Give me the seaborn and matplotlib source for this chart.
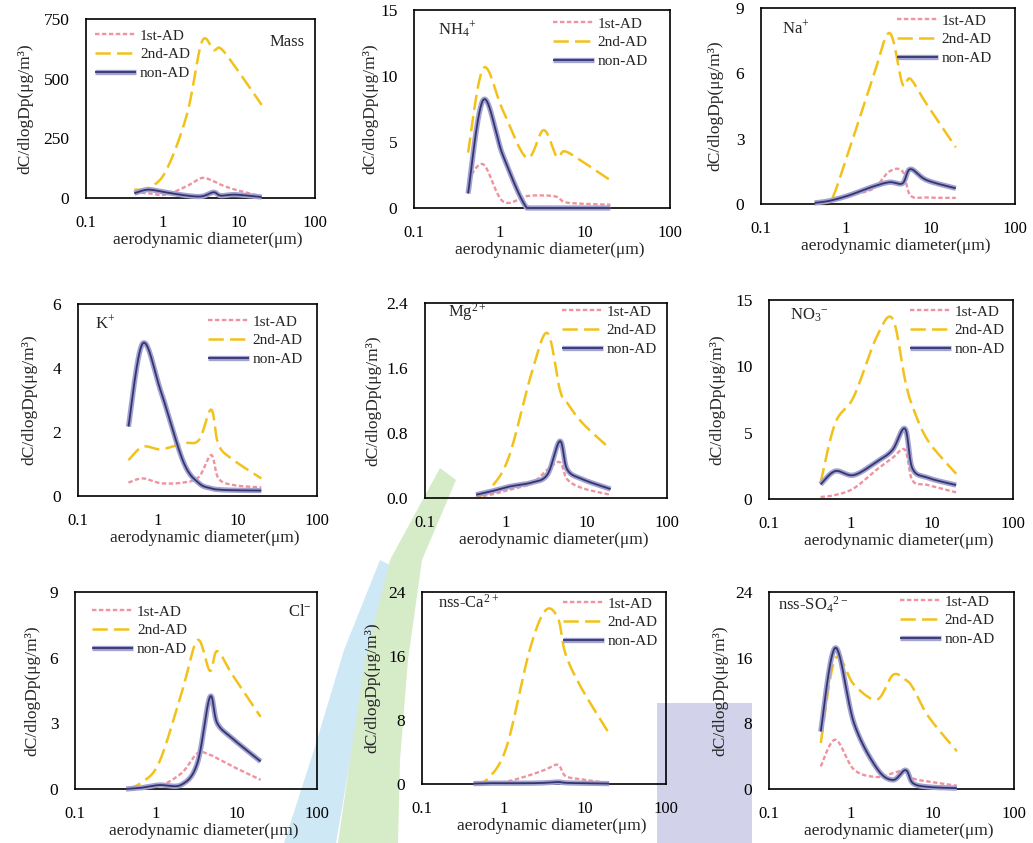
import numpy as np
import pandas as pd
import matplotlib
matplotlib.use("Agg")
import matplotlib.pyplot as plt
import seaborn as sns
from matplotlib import patheffects as pe
from matplotlib.patches import Polygon

# ---------------- data ----------------
dp = [0.43, 0.65, 1.1, 2.1, 3.3, 4.7, 5.8, 9.0, 20.0]
series_names = ["1st-AD", "2nd-AD", "non-AD"]
x_tick_vals = [0.1, 1, 10, 100]
x_tick_labels = ["0.1", "1", "10", "100"]

mass_1st = [24, 20, 14, 50, 84, 70, 56, 35, 7]
mass_2nd = [35, 42, 110, 350, 655, 620, 627, 550, 390]
mass_non = [20, 35, 24, 10, 7, 24, 10, 14, 4]

nh4_1st = [2.1, 3.3, 0.5, 0.9, 0.95, 0.85, 0.45, 0.33, 0.25]
nh4_2nd = [4.2, 10.6, 7.4, 3.8, 5.9, 3.9, 4.3, 3.6, 2.1]
nh4_non = [1.1, 8.2, 4.0, 0.0, 0.0, 0.0, 0.0, 0.0, 0.0]

na_1st = [0.05, 0.15, 0.4, 0.7, 1.5, 1.5, 0.4, 0.3, 0.28]
na_2nd = [0.0, 0.05, 2.5, 5.8, 7.85, 5.5, 5.75, 4.6, 2.6]
na_non = [0.05, 0.15, 0.4, 0.8, 1.0, 0.95, 1.6, 1.1, 0.72]

k_1st = [0.42, 0.55, 0.4, 0.42, 0.6, 1.28, 0.55, 0.34, 0.27]
k_2nd = [1.12, 1.54, 1.46, 1.65, 1.75, 2.7, 1.6, 1.12, 0.55]
k_non = [2.17, 4.77, 3.26, 1.07, 0.4, 0.24, 0.2, 0.18, 0.17]

mg_1st = [0.01, 0.04, 0.1, 0.18, 0.35, 0.44, 0.23, 0.12, 0.04]
mg_2nd = [0.0, 0.12, 0.51, 1.54, 2.03, 1.33, 1.17, 0.92, 0.6]
mg_non = [0.04, 0.08, 0.14, 0.19, 0.29, 0.70, 0.35, 0.23, 0.11]

no3_1st = [0.15, 0.3, 0.8, 2.2, 3.1, 3.7, 1.4, 1.05, 0.5]
no3_2nd = [1.2, 5.7, 7.7, 12.2, 13.6, 9.0, 7.0, 4.4, 1.9]
no3_non = [1.1, 2.1, 1.8, 2.8, 3.7, 5.3, 2.3, 1.6, 1.05]

cl_1st = [0.0, 0.05, 0.12, 0.73, 1.64, 1.56, 1.4, 1.03, 0.42]
cl_2nd = [0.0, 0.27, 1.2, 4.4, 6.8, 5.4, 6.3, 5.2, 3.3]
cl_non = [0.0, 0.05, 0.18, 0.2, 1.2, 4.2, 3.0, 2.3, 1.26]

ca_1st = [0.0, 0.1, 0.3, 1.1, 1.8, 2.4, 1.0, 0.6, 0.1]
ca_2nd = [0.0, 0.7, 4.7, 16.7, 21.7, 20.7, 16.3, 12.1, 6.3]
ca_non = [0.05, 0.1, 0.1, 0.1, 0.15, 0.25, 0.15, 0.1, 0.05]

so4_1st = [2.75, 6.0, 2.35, 1.46, 1.94, 2.27, 1.3, 0.9, 0.4]
so4_2nd = [5.6, 15.9, 12.7, 10.9, 13.9, 13.3, 12.3, 8.8, 4.6]
so4_non = [7.0, 17.2, 8.0, 2.5, 1.1, 2.3, 0.7, 0.25, 0.1]

panel_titles = ["Mass", r"NH$_4$$^{+}$", r"Na$^{+}$", r"K$^{+}$", r"Mg$^{2+}$",
                r"NO$_3$$^{-}$", r"Cl$^{-}$", r"nss-Ca$^{2+}$", r"nss-SO$_4$$^{2-}$"]
y_maxes = [750, 15, 9, 6, 2.4, 15, 9, 24, 24]
y_tick_labels = [["0", "250", "500", "750"], ["0", "5", "10", "15"], ["0", "3", "6", "9"],
                 ["0", "2", "4", "6"], ["0.0", "0.8", "1.6", "2.4"], ["0", "5", "10", "15"],
                 ["0", "3", "6", "9"], ["0", "8", "16", "24"], ["0", "8", "16", "24"]]

# ---------------- style ----------------
sns.set_theme(style="white")
plt.rcParams["font.family"] = ["Liberation Serif", "DejaVu Serif"]
plt.rcParams["mathtext.fontset"] = "custom"
plt.rcParams["mathtext.rm"] = "Liberation Serif"
plt.rcParams["mathtext.it"] = "Liberation Serif"
plt.rcParams["mathtext.default"] = "rm"
plt.rcParams["lines.scale_dashes"] = False

C1 = "#F0939E"
C2 = "#F2C21B"
C3 = "#35356E"
C3_EDGE = "#A2A2D2"
styles = {
    "1st-AD": dict(color=C1, lw=1.7, dashes=(3.2, 1.8), pe=None),
    "2nd-AD": dict(color=C2, lw=1.8, dashes=(11, 4.5), pe=None),
    "non-AD": dict(color=C3, lw=1.3, dashes=None,
                   pe=[pe.Stroke(linewidth=3.8, foreground=C3_EDGE), pe.Normal()]),
}

W, H = 1033, 843
# pixel boxes: x0, x1, ytop, ybottom
boxes = [(86, 315, 19, 198), (414, 670, 10, 208), (761, 1015, 8, 204),
         (78, 317, 304, 496), (425, 667, 303, 498), (769, 1013, 300, 499),
         (75, 317, 592, 789), (422, 666, 592, 784), (769, 1014, 592, 789)]
ylabel_dist = [61, 44, 46, 49, 52, 52, 43, 50, 49]
# title: (side, dx from side, dy below top)
title_pos = [("r", 10, 23), ("l", 24, 20), ("l", 21, 20), ("l", 17, 19), ("l", 23, 9),
             ("l", 21, 15), ("r", 5, 20), ("l", 16, 11), ("l", 9, 13)]
# legend: (side, dx from side, first-row dy below top)
legend_pos = [("l", 9, 18), ("r", 22, 15), ("r", 23, 14), ("r", 14, 19), ("r", 10, 10),
              ("r", 8, 13), ("l", 17, 21), ("r", 8, 13), ("r", 19, 11)]


def smooth(x, y, n=30):
    P = np.column_stack([np.log10(np.asarray(x, float)), np.asarray(y, float)])
    out = []
    m = len(P)
    for i in range(m - 1):
        p0 = P[i - 1] if i > 0 else P[i]
        p1, p2 = P[i], P[i + 1]
        p3 = P[i + 2] if i + 2 < m else P[i + 1]
        b1 = p1 + (p2 - p0) / 6.0
        b2 = p2 - (p3 - p1) / 6.0
        t = np.linspace(0, 1, n, endpoint=(i == m - 2))[:, None]
        seg = (1 - t) ** 3 * p1 + 3 * (1 - t) ** 2 * t * b1 + 3 * (1 - t) * t ** 2 * b2 + t ** 3 * p2
        out.append(seg)
    out = np.vstack(out)
    return 10 ** out[:, 0], np.maximum(out[:, 1], 0.0)


fig = plt.figure(figsize=(W / 100, H / 100), dpi=100)

# faint background watermark shapes (university logo)
bg = fig.add_axes([0, 0, 1, 1], zorder=-10)
bg.set_xlim(0, W)
bg.set_ylim(H, 0)
bg.axis("off")
bg.add_patch(Polygon([(380, 560), (392, 566), (372, 650), (352, 750), (336, 843),
                      (284, 843), (314, 750), (344, 650)], closed=True,
                     color="#CFE8F6", lw=0))
bg.add_patch(Polygon([(440, 468), (456, 480), (422, 560), (408, 660), (400, 760), (398, 843),
                      (338, 843), (350, 760), (365, 660), (390, 560)], closed=True,
                     color="#D6EBC8", lw=0))
bg.add_patch(Polygon([(657, 703), (752, 703), (752, 843), (657, 843)], closed=True,
                     color="#D2D2EA", lw=0))

groups = [
    (mass_1st, mass_2nd, mass_non), (nh4_1st, nh4_2nd, nh4_non), (na_1st, na_2nd, na_non),
    (k_1st, k_2nd, k_non), (mg_1st, mg_2nd, mg_non), (no3_1st, no3_2nd, no3_non),
    (cl_1st, cl_2nd, cl_non), (ca_1st, ca_2nd, ca_non), (so4_1st, so4_2nd, so4_non),
]

for k, (vals, box) in enumerate(zip(groups, boxes)):
    x0, x1, yt, yb = box
    w, h = x1 - x0, yb - yt
    ax = fig.add_axes([x0 / W, 1 - yb / H, w / W, h / H])
    ax.patch.set_alpha(0)
    handles = []
    for name, yv in zip(series_names, vals):
        st = styles[name]
        xs, ys = smooth(dp, yv)
        df = pd.DataFrame({"dp": xs, "val": ys})
        sns.lineplot(data=df, x="dp", y="val", ax=ax, color=st["color"], lw=st["lw"],
                     sort=False, estimator=None, zorder=3 if name == "non-AD" else 2)
        line = ax.lines[-1]
        if st["dashes"] is not None:
            line.set_dashes(st["dashes"])
        if st["pe"] is not None:
            line.set_path_effects(st["pe"])
        line.set_label(name)
        line.set_solid_capstyle("butt")
        line.set_clip_on(False)
        handles.append(line)
    ax.set_xscale("log")
    ax.set_xlim(0.1, 100)
    ymax = y_maxes[k]
    ax.set_ylim(0, ymax)
    ax.set_xticks(x_tick_vals)
    ax.set_xticklabels(x_tick_labels)
    ax.xaxis.set_minor_locator(matplotlib.ticker.NullLocator())
    ax.set_yticks(np.linspace(0, ymax, 4))
    ax.set_yticklabels(y_tick_labels[k])
    ax.tick_params(axis="x", direction="in", length=0, pad=12.5, labelsize=12, colors="black")
    ax.tick_params(axis="y", direction="in", length=4, width=1, pad=12, labelsize=12.5,
                   colors="black")
    for s in ax.spines.values():
        s.set_color("black")
        s.set_linewidth(1.2)
    ax.set_xlabel("aerodynamic diameter(\u03bcm)", fontsize=12.5, va="center")
    ax.xaxis.set_label_coords(0.53, -42 / h)
    ax.set_ylabel("dC/dlogDp(\u03bcg/m\u00b3)", fontsize=12.5, va="center")
    ax.yaxis.set_label_coords(-ylabel_dist[k] / w, 0.5)

    side, dx, dy = title_pos[k]
    if side == "r":
        ax.text(1 - dx / w, 1 - dy / h, panel_titles[k], transform=ax.transAxes,
                ha="right", va="center", fontsize=12)
    else:
        ax.text(dx / w, 1 - dy / h, panel_titles[k], transform=ax.transAxes,
                ha="left", va="center", fontsize=12)

    side, dx, dy = legend_pos[k]
    anchor_y = 1 - (dy - 8) / h
    kw = dict(handles=handles, frameon=False, fontsize=11, handlelength=2.7,
              handletextpad=0.25, labelspacing=0.33, borderpad=0, borderaxespad=0)
    if side == "r":
        ax.legend(loc="upper right", bbox_to_anchor=(1 - dx / w, anchor_y), **kw)
    else:
        ax.legend(loc="upper left", bbox_to_anchor=(dx / w, anchor_y), **kw)

fig.savefig("out.png", dpi=100)
